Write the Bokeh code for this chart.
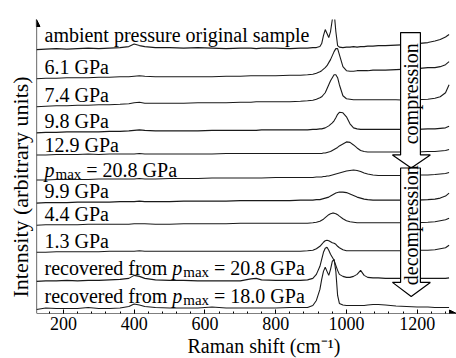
import math
from bokeh.plotting import figure
from bokeh.models import Label, Arrow, NormalHead, FixedTicker, Range1d, Title
from bokeh.embed import file_html
from bokeh.resources import INLINE

# Raman shift grid (cm-1)
raman_shift = [124, 150, 180, 210, 240, 270, 300, 330, 360, 385,
               400, 415, 430, 460, 500, 540, 580, 620, 660, 700,
               730, 745, 760, 800, 840, 870, 890, 905, 915, 925,
               930, 935, 940, 945, 950, 955, 960, 965, 970, 975,
               980, 990, 1000, 1010, 1020, 1030, 1040, 1050, 1060, 1075,
               1090, 1110, 1140, 1170, 1200, 1230, 1250, 1265, 1280, 1290]

# Intensities above each trace's own baseline (arbitrary units)
ambient = [0, 0.5, 1, 0.5, 1, 1.5, 1, 1.5, 2, 3,
           5.5, 4, 3, 2, 2, 1.5, 2, 1.5, 1, 1.5,
           1.5, 1, 1.5, 1.5, 1, 1.5, 1.5, 2, 2, 3,
           6, 14, 20, 16, 12, 18, 30, 38, 18, 4,
           2.5, 2, 2.5, 2.5, 3, 2.5, 3, 3, 3.5, 3.5,
           4, 4, 4.5, 5, 6, 7, 8.5, 10, 12.5, 15]
gpa_6_1 = [0, 0.5, 0.5, 1, 1, 1, 1.5, 1.5, 2, 2,
           2.5, 3, 2.5, 2, 2, 2, 2, 2, 2.5, 2.5,
           3, 3, 3, 3, 3.5, 3.5, 4, 4.5, 5.5, 7,
           8, 9.5, 11, 13, 16, 19, 23, 27, 30, 30,
           24, 12, 8, 7.5, 7.5, 8, 8, 8, 8, 8.5,
           8.5, 8.5, 9, 9.5, 10, 11, 11, 12, 14, 17]
gpa_7_4 = [0, 0.5, 1, 1, 1.5, 1.5, 2, 2, 2.5, 3,
           4, 4.5, 3.5, 3.5, 3.5, 3.5, 4, 4, 4, 4.5,
           4.5, 5, 5, 5, 5, 5.5, 6, 6.5, 7.5, 9,
           10, 12, 14, 18, 22, 26, 29, 32, 32, 29,
           22, 11, 8, 7.5, 7, 7, 7, 7, 7, 7,
           7, 7, 7, 6.5, 7, 7.5, 8.5, 10, 14, 22]
gpa_9_8 = [0, 0.5, 0.5, 1, 1, 1, 1, 1.5, 1.5, 2,
           2.5, 3, 2.5, 2, 2, 2, 2, 2.5, 2.5, 2.5,
           2.5, 2.5, 3, 3, 3, 3, 3, 3.5, 3.5, 4,
           4, 4.5, 5, 6, 7, 8.5, 10, 12, 15, 18.5,
           20.5, 20, 16, 9, 5, 4, 3.5, 3.5, 3.5, 3.5,
           3.5, 3.5, 3.5, 3.5, 3.5, 4, 4, 4.5, 5, 6.5]
gpa_12_9 = [0, 0, 0.5, 0.5, 0.5, 1, 0.5, 1, 1, 1,
            1, 1.5, 1, 1, 1, 1, 1, 1, 1.5, 1.5,
            1.5, 1.5, 1.5, 1.5, 1.5, 1.5, 1.5, 1.5, 1.5, 1.5,
            1.5, 2, 2, 2.5, 3, 3.5, 4.5, 5.5, 6.5, 7.5,
            9, 11, 13, 12.5, 10, 7, 4.5, 3.5, 3, 3,
            3, 3, 3, 3, 3, 3.5, 3.5, 4, 4.5, 5.5]
gpa_20_8 = [0, 0, 0.5, 0.5, 0.5, 0.5, 1, 1, 1, 1,
            1, 1.5, 1, 1, 1.5, 1.5, 1.5, 2, 2, 2,
            2, 2, 2, 2.5, 2.5, 2.5, 2.5, 2.5, 3, 3,
            3, 3.5, 3.5, 4, 4, 4.5, 5, 5.5, 6, 6.5,
            7, 8, 9, 9.5, 10, 9.5, 8.5, 7, 6, 5,
            4.5, 4.5, 4.5, 4.5, 5, 5, 5.5, 6, 6.5, 7.5]
gpa_9_9 = [0, 0.5, 0.5, 0.5, 1, 1, 1, 1, 1.5, 1.5,
           1.5, 2, 1.5, 1.5, 1.5, 2, 2, 2, 2, 2.5,
           2.5, 2.5, 2.5, 2.5, 2.5, 3, 3, 3, 3.5, 3.5,
           4, 4.5, 5, 5.5, 6, 7, 8, 9, 10, 10.5,
           11, 11, 10.5, 9, 7.5, 6, 5, 4, 3.5, 3,
           3, 3, 3, 3, 3, 3.5, 4, 5, 7, 10]
gpa_4_4 = [0, 0.5, 0.5, 0.5, 0.5, 1, 1, 1, 1, 1,
           1.5, 1.5, 1.5, 1, 1, 1.5, 1.5, 1.5, 1.5, 2,
           2, 2, 2, 2, 2, 2, 2, 2.5, 3, 4,
           5, 6, 7.5, 9, 10.5, 11.5, 12, 12, 11.5, 10.5,
           9, 6.5, 4.5, 3.5, 3, 2.5, 2.5, 2.5, 2.5, 2.5,
           2.5, 2.5, 2.5, 2.5, 2.5, 3, 3.5, 4.5, 5.5, 7]
gpa_1_3 = [0, 0, 0.5, 0.5, 0.5, 0.5, 0.5, 1, 1, 1,
           1, 1.5, 1, 1, 1, 1, 1, 1, 1, 1,
           1, 1, 1, 1, 1, 1, 1.5, 2, 3.5, 6,
           8, 10, 11.5, 12, 11.5, 10.5, 9.5, 9, 8, 6,
           4.5, 2.5, 1.5, 1.5, 1.5, 1.5, 1.5, 1.5, 1.5, 1.5,
           1.5, 1.5, 1.5, 1.5, 2, 2, 2.5, 3.5, 4.5, 7]
recovered_20_8 = [0, 0.5, 0.5, 1, 0.5, 1, 1, 1.5, 2, 3,
                  6, 5, 3, 1.5, 1, 1, 0.5, 0.5, 0.5, 0.5,
                  2.5, 3, 1.5, 1, 1, 1, 1.5, 3, 7, 15,
                  22, 29, 33, 34, 31, 27, 24, 21, 16, 11,
                  7, 5, 4, 4, 5, 7, 11, 6, 4, 3.5,
                  3.5, 3, 3, 3, 3, 3, 3, 3, 3, 3.5]
recovered_18_0 = [0, 1.5, 1, 1, 1, 2, 1, 1, 1.5, 3,
                  5.5, 4.5, 3, 2, 1.5, 1.5, 1.5, 2.5, 1.5, 1.5,
                  1.5, 1.5, 1.5, 1.5, 2, 2, 2, 4, 9, 20,
                  30, 38, 42, 38, 34, 40, 48, 50, 38, 14,
                  6, 4.5, 4, 4, 4, 4, 4, 4, 4.5, 5,
                  5, 4.5, 3.5, 3, 2.5, 2.5, 2, 2, 2, 2]

# Vertical stacking offset of each trace
offsets = [263, 234, 206, 180, 158, 133, 110, 88, 61, 32, 4]
series = [ambient, gpa_6_1, gpa_7_4, gpa_9_8, gpa_12_9, gpa_20_8,
          gpa_9_9, gpa_4_4, gpa_1_3, recovered_20_8, recovered_18_0]

# Label text pieces: (text, italic?, size px, vertical shift px)
PMAX = [("p", True, 20, 0), ("max", False, 15, -4)]
labels = [
    [("ambient pressure original sample", False, 20, 0)],
    [("6.1 GPa", False, 20, 0)],
    [("7.4 GPa", False, 20, 0)],
    [("9.8 GPa", False, 20, 0)],
    [("12.9 GPa", False, 20, 0)],
    PMAX + [(" = 20.8 GPa", False, 20, 0)],
    [("9.9 GPa", False, 20, 0)],
    [("4.4 GPa", False, 20, 0)],
    [("1.3 GPa", False, 20, 0)],
    [("recovered from ", False, 20, 0)] + PMAX + [(" = 20.8 GPa", False, 20, 0)],
    [("recovered from ", False, 20, 0)] + PMAX + [(" = 18.0 GPa", False, 20, 0)],
]
label_gap = [15, 12, 12, 12, 10, 10, 12, 11, 11, 13, 13]

x_ticks = [200, 400, 600, 800, 1000, 1200]

FONT = "Liberation Serif"
X0, X1 = 124, 1311
Y0, Y1 = 0, 293

# Advance widths (em) for a Times-metric serif face
ADV = {' ': .25, '.': .25, '=': .564, '(': .333, ')': .333, '-': .333,
       'G': .722, 'P': .556, 'R': .667,
       'a': .444, 'b': .5, 'c': .444, 'd': .5, 'e': .444, 'f': .333, 'g': .5,
       'h': .5, 'i': .278, 'l': .278, 'm': .778, 'n': .5, 'o': .5, 'p': .5,
       'r': .333, 's': .389, 't': .278, 'u': .5, 'v': .5, 'x': .5, 'y': .5}


def text_width(s, size):
    return sum(ADV.get(ch, .5) for ch in s) * size


p = figure(width=456, height=358, output_backend="svg", toolbar_location=None,
           x_range=Range1d(X0, X1), y_range=Range1d(Y0, Y1),
           min_border_left=36, min_border_right=0, min_border_top=19,
           min_border_bottom=45)
p.outline_line_color = None
p.grid.visible = False
p.yaxis.visible = False
p.background_fill_color = "white"

ax = p.xaxis[0]
ax.ticker = FixedTicker(ticks=x_ticks, minor_ticks=list(range(160, 1300, 40)))
ax.axis_line_color = None
ax.major_tick_in = 4
ax.major_tick_out = 0
ax.minor_tick_in = 2
ax.minor_tick_out = 0
ax.major_tick_line_color = "black"
ax.minor_tick_line_color = "black"
ax.major_label_text_font = FONT
ax.major_label_text_font_size = "18px"
ax.major_label_text_color = "black"
ax.major_label_standoff = 3

# Axis titles
p.add_layout(Title(text="Raman shift (cm\u207b\u00b9)", align="left", offset=151,
                   text_font=FONT, text_font_size="20px", text_font_style="normal",
                   text_color="black", standoff=0), "below")
p.add_layout(Title(text="Intensity (arbitrary units)", align="left", offset=16,
                   text_font=FONT, text_font_size="22px", text_font_style="normal",
                   text_color="black", standoff=8), "left")

# Axis lines with arrow heads
p.add_layout(Arrow(end=NormalHead(size=7, fill_color="black", line_color="black"),
                   x_start=X0, y_start=Y0, x_end=X1, y_end=Y0,
                   line_color="black", line_width=1.2))
p.add_layout(Arrow(end=NormalHead(size=7, fill_color="black", line_color="black"),
                   x_start=X0, y_start=Y0, x_end=X0, y_end=Y1,
                   line_color="black", line_width=1.2))

# Stacked spectra
for off, vals in zip(offsets, series):
    p.line(raman_shift, [off + v for v in vals], line_color="#1a1a1a", line_width=1.1)

# Trace labels, built piece by piece (italic p, subscript "max")
for off, parts, gap in zip(offsets, labels, label_gap):
    dx = 8
    for text, italic, size, dy in parts:
        lead = len(text) - len(text.lstrip(" "))
        dx += text_width(" " * lead, size)
        body = text.strip(" ")
        p.add_layout(Label(x=X0, y=off + gap, x_offset=dx, y_offset=dy, text=body,
                           text_font=FONT, text_font_size=f"{size}px",
                           text_font_style="italic" if italic else "normal",
                           text_color="black", text_baseline="alphabetic"))
        dx += text_width(text.lstrip(" "), size) + (1 if italic else 0)

# Block arrows on the right
def block_arrow(top, neck, tip, text):
    xl, xr, hl, hr, xc = 1153, 1209, 1130, 1237, 1183
    p.patch([xl, xr, xr, hr, xc, hl, xl], [top, top, neck, neck, tip, neck, neck],
            fill_color="white", line_color="black", line_width=1.2)
    p.add_layout(Label(x=xc, y=(top + neck) / 2, text=text, angle=math.pi / 2,
                       text_font=FONT, text_font_size="20px", text_color="black",
                       text_align="center", text_baseline="middle"))

block_arrow(280, 158, 145, "compression")
block_arrow(145, 31, 17, "decompression")

open("out.html", "w").write(file_html(p, INLINE))
